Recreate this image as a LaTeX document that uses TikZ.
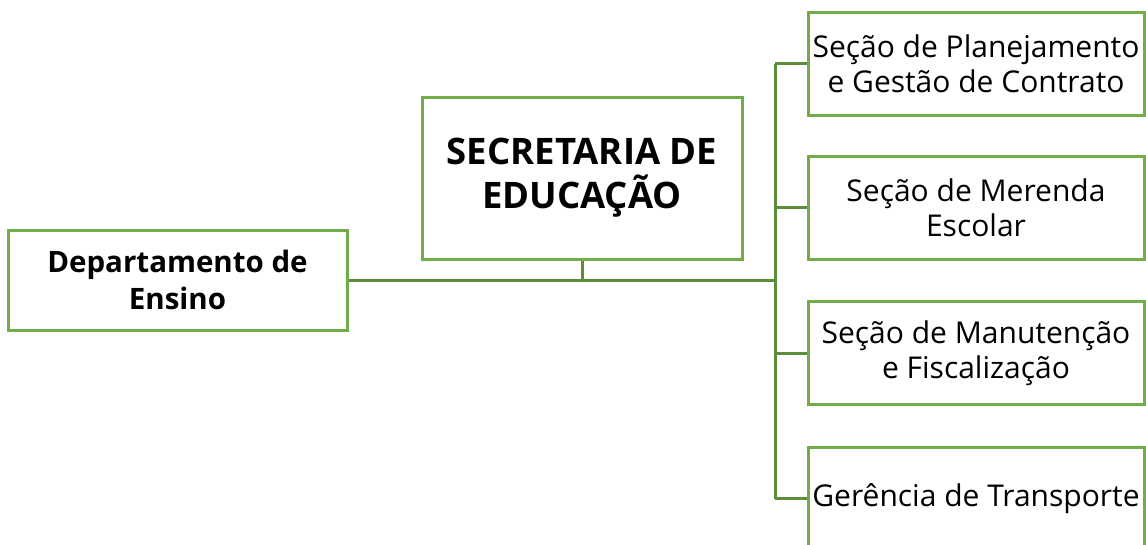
\documentclass[tikz,border=0pt]{standalone}
\usepackage{fontspec}
\setmainfont{Open Sans}
\definecolor{boxgreen}{HTML}{70AD47}
\definecolor{linegreen}{HTML}{5A8E3A}
\begin{document}
\begin{tikzpicture}[x=1pt,y=-1pt,
  box/.style={draw=boxgreen,line width=3pt,fill=white,align=center,inner sep=0pt},
  rbox/.style={box,minimum width=336pt,minimum height=103pt,font=\fontsize{30}{35}\selectfont},
  conn/.style={draw=linegreen,line width=3pt}]
\useasboundingbox (0,0) rectangle (1146,544);
\clip (0,0) rectangle (1146,544);
\coordinate (bus) at (775,280);
\coordinate (top) at (775,63.5);
\coordinate (bot) at (775,498.5);
\node[box,minimum width=339pt,minimum height=100pt,font=\fontsize{29.5}{37}\selectfont\bfseries] (dep) at (177.5,280) {Departamento de\\Ensino};
\node[box,minimum width=320pt,minimum height=162pt,font=\fontsize{36.5}{44}\selectfont\bfseries] (sec) at (582,178) {SECRETARIA DE\\EDUCAÇÃO};
\node[rbox] (r1) at (976,63.5) {Seção de Planejamento\\e Gestão de Contrato};
\node[rbox] (r2) at (976,207.5) {Seção de Merenda\\Escolar};
\node[rbox] (r3) at (976,353) {Seção de Manutenção\\e Fiscalização};
\node[rbox] (r4) at (976,498.5) {Gerência de Transporte};
\draw[conn] (dep.east) -- (bus);
\draw[conn] (sec.south) -- (sec.south |- bus);
\draw[conn] (top) -- (bot);
\draw[conn] (top) -- (r1.west);
\draw[conn] (r2.west -| bus) -- (r2.west);
\draw[conn] (r3.west -| bus) -- (r3.west);
\draw[conn] (bot) -- (r4.west);
\end{tikzpicture}
\end{document}
